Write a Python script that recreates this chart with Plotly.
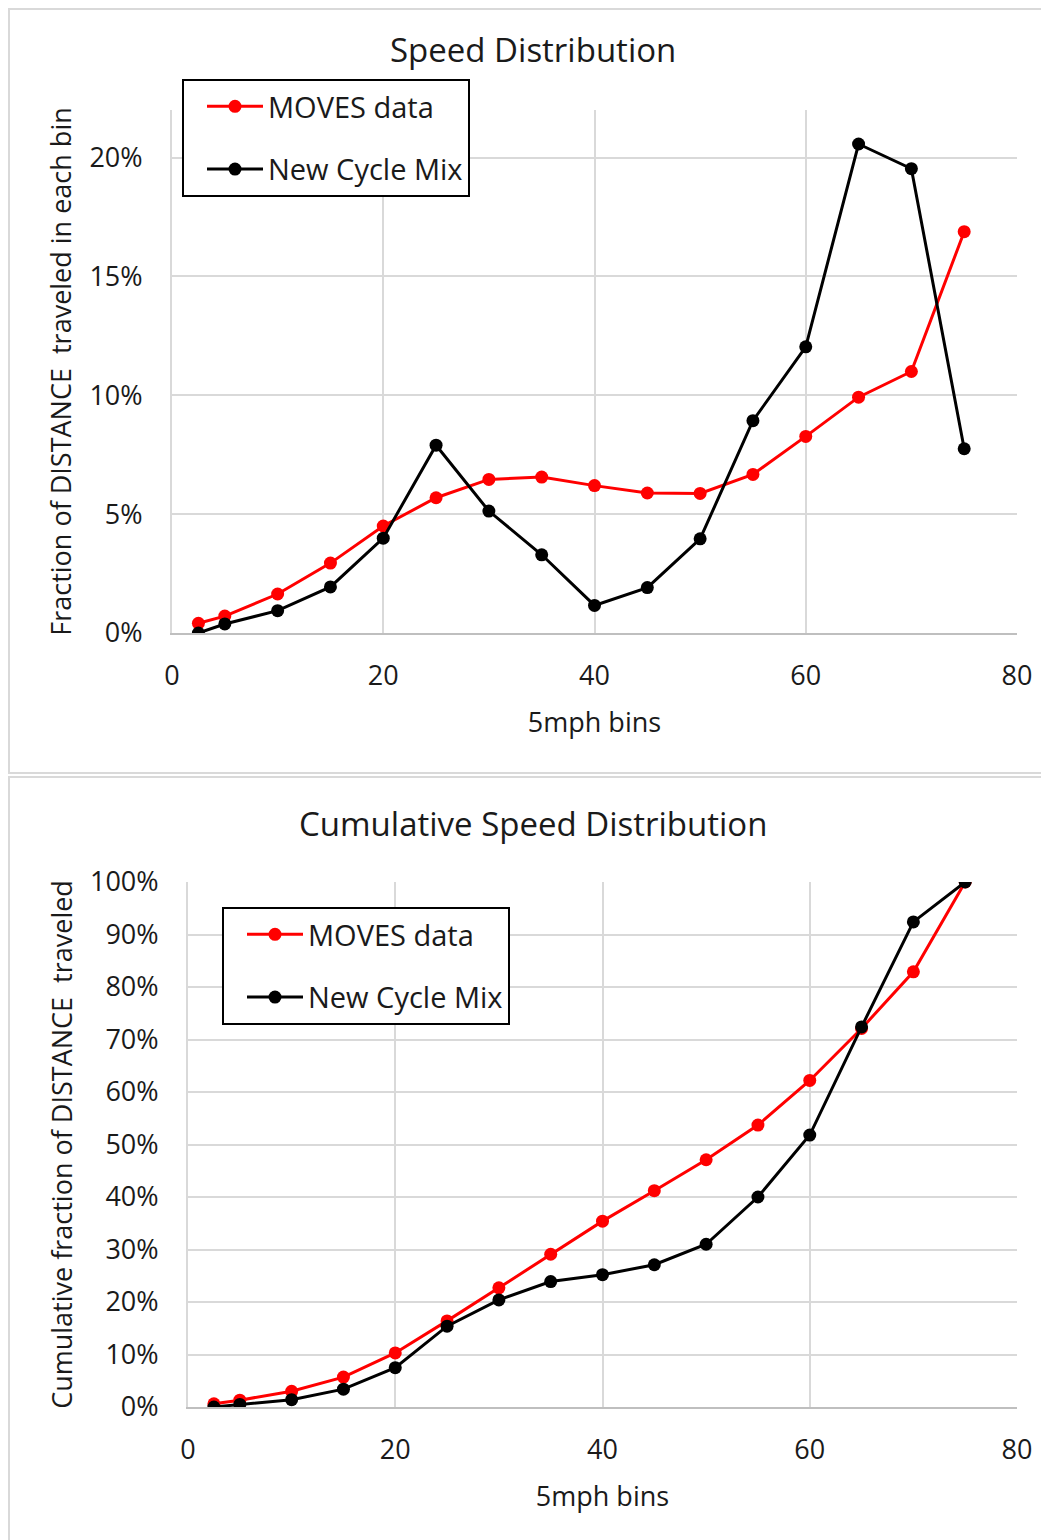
import plotly.graph_objects as go

# ---- data ----
speed_bins = [2.5, 5, 10, 15, 20, 25, 30, 35, 40, 45, 50, 55, 60, 65, 70, 75]

moves_frac = [0.0041, 0.0071, 0.0164, 0.0294, 0.0450, 0.0569, 0.0646, 0.0656,
              0.0620, 0.0589, 0.0587, 0.0667, 0.0827, 0.0992, 0.1100, 0.1688]
newmix_frac = [0.0000, 0.0038, 0.0094, 0.0194, 0.0399, 0.0790, 0.0513, 0.0329,
               0.0116, 0.0191, 0.0396, 0.0893, 0.1204, 0.2057, 0.1953, 0.0775]

moves_cum = [0.006, 0.013, 0.030, 0.057, 0.103, 0.164, 0.227, 0.291,
             0.354, 0.412, 0.471, 0.537, 0.622, 0.721, 0.829, 1.000]
newmix_cum = [0.000, 0.005, 0.014, 0.034, 0.075, 0.154, 0.204, 0.239,
              0.252, 0.271, 0.310, 0.400, 0.518, 0.724, 0.924, 1.000]

series_names = ["MOVES data", "New Cycle Mix"]
series_colors = ["#FF0000", "#000000"]

titles = ["Speed Distribution", "Cumulative Speed Distribution"]
y_titles = ["Fraction of DISTANCE  traveled in each bin",
            "Cumulative fraction of DISTANCE  traveled"]
x_title = "5mph bins"

W, H = 1049, 1540
OFF = 8  # page body margin of the rendered html
FONT = "Open Sans"


def px_x(p):
    return (p - OFF) / W


def px_y(p):
    return 1 - (p - OFF) / H


fig = go.Figure()

# top chart traces
for name, vals, col in zip(series_names, [moves_frac, newmix_frac], series_colors):
    fig.add_trace(go.Scatter(
        x=speed_bins, y=vals, name=name, mode="lines+markers",
        line=dict(color=col, width=3), marker=dict(color=col, size=13),
        xaxis="x", yaxis="y", legend="legend", legendgroup=name + "1",
    ))

# bottom chart traces
for name, vals, col in zip(series_names, [moves_cum, newmix_cum], series_colors):
    fig.add_trace(go.Scatter(
        x=speed_bins, y=vals, name=name, mode="lines+markers",
        line=dict(color=col, width=3), marker=dict(color=col, size=13),
        xaxis="x2", yaxis="y2", legend="legend2", legendgroup=name + "2",
    ))

grid_col = "#D9D9D9"
txt_col = "#1A1A1A"
tick_font = dict(family=FONT, size=27, color=txt_col)
title_font = dict(family=FONT, size=27, color=txt_col)

common_x = dict(range=[0, 80], dtick=20, showgrid=True, gridcolor=grid_col, gridwidth=2,
                zeroline=False, showline=True, linecolor="#BFBFBF", linewidth=2,
                ticks="", tickfont=tick_font, ticklabelstandoff=18, automargin=False,
                title=dict(text=x_title, font=title_font, standoff=21))
common_y = dict(showgrid=True, gridcolor=grid_col, gridwidth=2, zeroline=False,
                showline=True, linecolor=grid_col, linewidth=2, ticks="",
                tickfont=tick_font, tickformat=".0%", ticklabelstandoff=22,
                automargin=False)

leg_common = dict(xanchor="left", yanchor="top", bgcolor="white",
                  bordercolor="black", borderwidth=2,
                  font=dict(family=FONT, size=29, color=txt_col),
                  traceorder="grouped", tracegroupgap=22, itemwidth=56,
                  indentation=18)

fig.update_layout(
    width=W, height=H,
    margin=dict(l=0, r=0, t=0, b=0, autoexpand=False),
    paper_bgcolor="white", plot_bgcolor="white",
    showlegend=True,
    xaxis=dict(domain=[px_x(172), px_x(1017)], anchor="y", **common_x),
    yaxis=dict(domain=[px_y(633), px_y(110)], anchor="x", range=[0, 0.22], dtick=0.05,
               title=dict(text=y_titles[0], font=title_font, standoff=10), **common_y),
    xaxis2=dict(domain=[px_x(188), px_x(1017)], anchor="y2", **common_x),
    yaxis2=dict(domain=[px_y(1407), px_y(882)], anchor="x2", range=[0, 1.0], dtick=0.1,
                title=dict(text=y_titles[1], font=title_font, standoff=10), **common_y),
    legend=dict(x=px_x(182), y=px_y(79), **leg_common),
    legend2=dict(x=px_x(222), y=px_y(907), **leg_common),
    annotations=[
        dict(text=titles[0], x=px_x(533), y=px_y(50), xref="paper", yref="paper",
             showarrow=False, font=dict(family=FONT, size=33, color=txt_col),
             xanchor="center", yanchor="middle"),
        dict(text=titles[1], x=px_x(533), y=px_y(823), xref="paper", yref="paper",
             showarrow=False, font=dict(family=FONT, size=33, color=txt_col),
             xanchor="center", yanchor="middle"),
    ],
    shapes=[
        dict(type="rect", xref="paper", yref="paper", x0=px_x(9), x1=1.02,
             y0=px_y(773), y1=px_y(9), line=dict(color=grid_col, width=2)),
        dict(type="rect", xref="paper", yref="paper", x0=px_x(9), x1=1.02,
             y0=-0.02, y1=px_y(777), line=dict(color=grid_col, width=2)),
    ],
)

fig.write_html("out.html")
